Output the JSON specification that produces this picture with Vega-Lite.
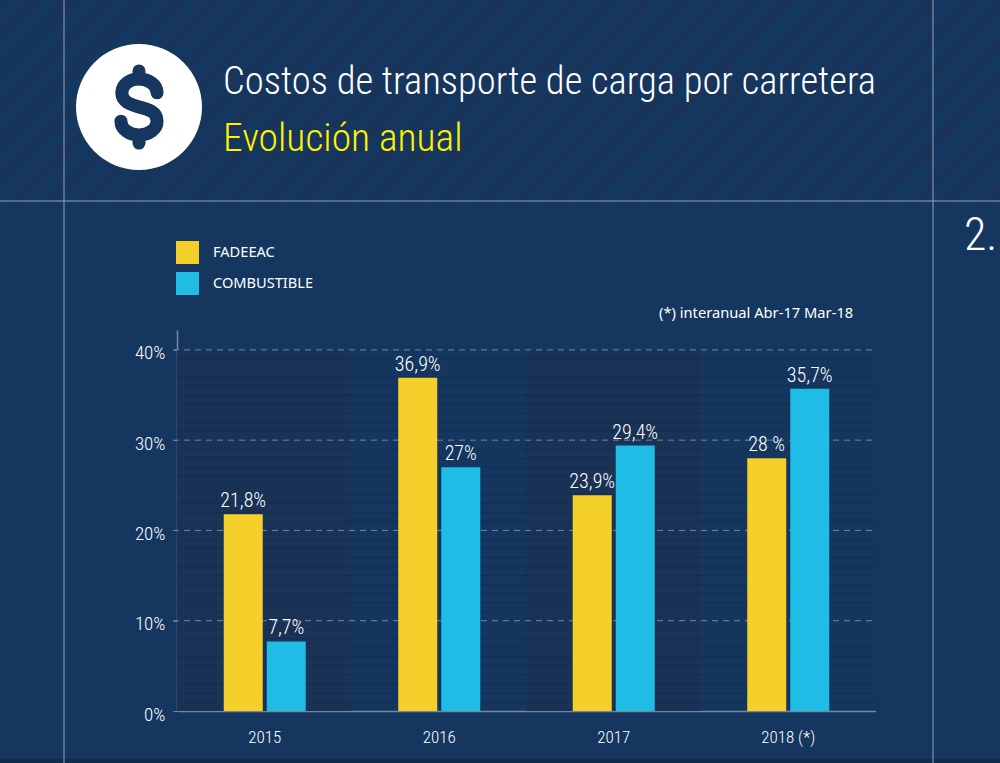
{"$schema":"https://vega.github.io/schema/vega-lite/v6.json","width":1000,"height":763,"autosize":"none","padding":0,"background":"#15375f","view":{"stroke":null},"title":{"text":"Costos de transporte de carga por carretera","subtitle":"Evolución anual","anchor":"start","frame":"group","orient":"top","dx":223,"offset":-160,"font":"Roboto Condensed","fontSize":38.6,"fontWeight":300,"color":"#ffffff","subtitleFont":"Roboto Condensed","subtitleFontSize":39.5,"subtitleFontWeight":300,"subtitleColor":"#fff200","subtitlePadding":17},"resolve":{"scale":{"x":"independent","y":"independent"},"axis":{"x":"independent","y":"independent"}},"layer":[{"data":{"values":[{}]},"encoding":{"x":{"scale":{"domain":[0,1000],"range":[0,1000]},"type":"quantitative","axis":null},"y":{"scale":{"domain":[0,763],"range":[0,763]},"type":"quantitative","axis":null}},"layer":[{"mark":{"type":"rect","color":{"gradient":"linear","x1":0,"y1":0,"x2":1.2,"y2":0.2412,"stops":[{"offset":0,"color":"#1b3359"},{"offset":0.0144,"color":"#123861"},{"offset":0.0288,"color":"#1b3359"},{"offset":0.0432,"color":"#123861"},{"offset":0.0576,"color":"#1b3359"},{"offset":0.072,"color":"#123861"},{"offset":0.0864,"color":"#1b3359"},{"offset":0.1008,"color":"#123861"},{"offset":0.1152,"color":"#1b3359"},{"offset":0.1296,"color":"#123861"},{"offset":0.144,"color":"#1b3359"},{"offset":0.1584,"color":"#123861"},{"offset":0.1728,"color":"#1b3359"},{"offset":0.1872,"color":"#123861"},{"offset":0.2016,"color":"#1b3359"},{"offset":0.216,"color":"#123861"},{"offset":0.2304,"color":"#1b3359"},{"offset":0.2448,"color":"#123861"},{"offset":0.2592,"color":"#1b3359"},{"offset":0.2736,"color":"#123861"},{"offset":0.288,"color":"#1b3359"},{"offset":0.3024,"color":"#123861"},{"offset":0.3168,"color":"#1b3359"},{"offset":0.3312,"color":"#123861"},{"offset":0.3456,"color":"#1b3359"},{"offset":0.36,"color":"#123861"},{"offset":0.3744,"color":"#1b3359"},{"offset":0.3888,"color":"#123861"},{"offset":0.4032,"color":"#1b3359"},{"offset":0.4176,"color":"#123861"},{"offset":0.432,"color":"#1b3359"},{"offset":0.4464,"color":"#123861"},{"offset":0.4608,"color":"#1b3359"},{"offset":0.4752,"color":"#123861"},{"offset":0.4896,"color":"#1b3359"},{"offset":0.504,"color":"#123861"},{"offset":0.5184,"color":"#1b3359"},{"offset":0.5328,"color":"#123861"},{"offset":0.5472,"color":"#1b3359"},{"offset":0.5616,"color":"#123861"},{"offset":0.576,"color":"#1b3359"},{"offset":0.5904,"color":"#123861"},{"offset":0.6048,"color":"#1b3359"},{"offset":0.6192,"color":"#123861"},{"offset":0.6336,"color":"#1b3359"},{"offset":0.648,"color":"#123861"},{"offset":0.6624,"color":"#1b3359"},{"offset":0.6768,"color":"#123861"},{"offset":0.6912,"color":"#1b3359"},{"offset":0.7056,"color":"#123861"},{"offset":0.72,"color":"#1b3359"},{"offset":0.7344,"color":"#123861"},{"offset":0.7488,"color":"#1b3359"},{"offset":0.7632,"color":"#123861"},{"offset":0.7776,"color":"#1b3359"},{"offset":0.792,"color":"#123861"},{"offset":0.8064,"color":"#1b3359"},{"offset":0.8208,"color":"#123861"},{"offset":0.8352,"color":"#1b3359"},{"offset":0.8496,"color":"#123861"},{"offset":0.864,"color":"#1b3359"},{"offset":0.8784,"color":"#123861"},{"offset":0.8928,"color":"#1b3359"},{"offset":0.9072,"color":"#123861"},{"offset":0.9216,"color":"#1b3359"},{"offset":0.936,"color":"#123861"},{"offset":0.9504,"color":"#1b3359"},{"offset":0.9648,"color":"#123861"},{"offset":1,"color":"#1b3359"}]}},"encoding":{"x":{"datum":0},"x2":{"datum":1000},"y":{"datum":0},"y2":{"datum":201}}},{"mark":{"type":"rect","color":"#0f2b4d"},"encoding":{"x":{"datum":0},"x2":{"datum":1000},"y":{"datum":759},"y2":{"datum":763}}},{"mark":{"type":"rule","color":"#93a3ba","strokeWidth":1},"encoding":{"x":{"datum":64}}},{"mark":{"type":"rule","color":"#93a3ba","strokeWidth":1},"encoding":{"x":{"datum":933}}},{"mark":{"type":"rule","color":"#93a3ba","strokeWidth":1},"encoding":{"y":{"datum":201}}},{"mark":{"type":"point","filled":true,"shape":"circle","size":15876,"color":"#ffffff","opacity":1},"encoding":{"x":{"datum":139},"y":{"datum":107}}},{"mark":{"type":"point","filled":false,"size":7396,"shape":"M0.42,-0.33 C0.42,-0.52 0.22,-0.65 0,-0.65 C-0.22,-0.65 -0.40,-0.52 -0.40,-0.33 C-0.40,-0.1 -0.15,-0.05 0,0 C0.2,0.05 0.42,0.1 0.42,0.33 C0.42,0.52 0.22,0.65 0,0.65 C-0.22,0.65 -0.42,0.52 -0.42,0.33 M0,-0.65 L0,-0.84 M0,0.65 L0,0.84","stroke":"#16365f","strokeWidth":13,"strokeCap":"round","opacity":1},"encoding":{"x":{"datum":139},"y":{"datum":107}}},{"mark":{"type":"text","text":"2.","font":"Roboto Condensed","fontSize":46,"fontWeight":300,"color":"#ffffff","align":"left","baseline":"middle"},"encoding":{"x":{"datum":964},"y":{"datum":236}}},{"mark":{"type":"text","text":"(*) interanual Abr-17 Mar-18","font":"Noto Sans","fontSize":14.7,"color":"#ffffff","align":"left","baseline":"middle"},"encoding":{"x":{"datum":659},"y":{"datum":314}}}]},{"data":{"values":[{"year":"2015"},{"year":"2017"}]},"mark":{"type":"bar","fill":"#1a3255","width":{"band":2.1277}},"encoding":{"x":{"field":"year","type":"nominal","axis":null,"scale":{"domain":["2015","2016","2017","2018 (*)"],"range":[177,875],"paddingInner":0.53,"paddingOuter":0.265}},"y":{"datum":0,"type":"quantitative","axis":null,"scale":{"domain":[0,42.2],"range":[711,330]}},"y2":{"datum":40}}},{"encoding":{"x":{"type":"quantitative","axis":null,"scale":{"domain":[0,1000],"range":[0,1000]}},"y":{"type":"quantitative","axis":null,"scale":{"domain":[0,42.2],"range":[711,330]}}},"layer":[{"data":{"values":[{"v":1},{"v":2},{"v":3},{"v":4},{"v":5},{"v":6},{"v":7},{"v":8},{"v":9},{"v":11},{"v":12},{"v":13},{"v":14},{"v":15},{"v":16},{"v":17},{"v":18},{"v":19},{"v":21},{"v":22},{"v":23},{"v":24},{"v":25},{"v":26},{"v":27},{"v":28},{"v":29},{"v":31},{"v":32},{"v":33},{"v":34},{"v":35},{"v":36},{"v":37},{"v":38},{"v":39}]},"mark":{"type":"rule","color":"#10294a","strokeWidth":1,"opacity":0.55},"encoding":{"x":{"datum":177},"x2":{"datum":875},"y":{"field":"v"}}},{"data":{"values":[{"v":10},{"v":20},{"v":30},{"v":40}]},"mark":{"type":"rule","color":"#6d87a8","strokeWidth":1,"strokeDash":[6,5]},"encoding":{"x":{"datum":173},"x2":{"datum":875},"y":{"field":"v"}}}]},{"data":{"values":[{"year":"2015","serie":"FADEEAC","valor":21.8,"etiqueta":"21,8%"},{"year":"2015","serie":"COMBUSTIBLE","valor":7.7,"etiqueta":"7,7%"},{"year":"2016","serie":"FADEEAC","valor":36.9,"etiqueta":"36,9%"},{"year":"2016","serie":"COMBUSTIBLE","valor":27,"etiqueta":"27%"},{"year":"2017","serie":"FADEEAC","valor":23.9,"etiqueta":"23,9%"},{"year":"2017","serie":"COMBUSTIBLE","valor":29.4,"etiqueta":"29,4%"},{"year":"2018 (*)","serie":"FADEEAC","valor":28,"etiqueta":"28 %"},{"year":"2018 (*)","serie":"COMBUSTIBLE","valor":35.7,"etiqueta":"35,7%"}]},"encoding":{"x":{"field":"year","type":"nominal","scale":{"domain":["2015","2016","2017","2018 (*)"],"range":[177.5,875.5],"paddingInner":0.53,"paddingOuter":0.265},"axis":{"title":null,"orient":"bottom","offset":-52,"labelAngle":0,"labelFont":"Roboto Condensed","labelFontSize":17,"labelFontWeight":300,"labelColor":"#ffffff","labelPadding":18,"ticks":false,"domainColor":"#76869f","domainWidth":1.5,"grid":false}},"xOffset":{"field":"serie","type":"nominal","scale":{"domain":["FADEEAC","COMBUSTIBLE"],"paddingInner":0.093,"paddingOuter":0}},"y":{"field":"valor","type":"quantitative","scale":{"domain":[0,42.2],"range":[711,330]},"axis":{"title":null,"orient":"left","offset":-177,"values":[0,10,20,30,40],"labelExpr":"datum.value + '%'","labelFont":"Roboto Condensed","labelFontSize":19,"labelFontWeight":300,"labelColor":"#ffffff","labelPadding":8,"labelOffset":3,"tickSize":4,"tickColor":"#76869f","domainColor":"#76869f","domainWidth":1.5,"grid":false}}},"layer":[{"mark":{"type":"bar"},"encoding":{"color":{"field":"serie","type":"nominal","scale":{"domain":["FADEEAC","COMBUSTIBLE"],"range":["#f5d02b","#1fbce6"]},"legend":{"title":null,"orient":"none","legendX":176,"legendY":241,"symbolType":"square","symbolSize":529,"symbolStrokeWidth":0,"symbolOpacity":1,"labelFont":"Noto Sans","labelFontSize":14.6,"labelColor":"#ffffff","labelOffset":14,"rowPadding":8,"labelLimit":200}}}},{"mark":{"type":"text","baseline":"bottom","dy":-3,"font":"Roboto Condensed","fontSize":20,"fontWeight":300,"color":"#ffffff"},"encoding":{"text":{"field":"etiqueta"}}}]}]}
